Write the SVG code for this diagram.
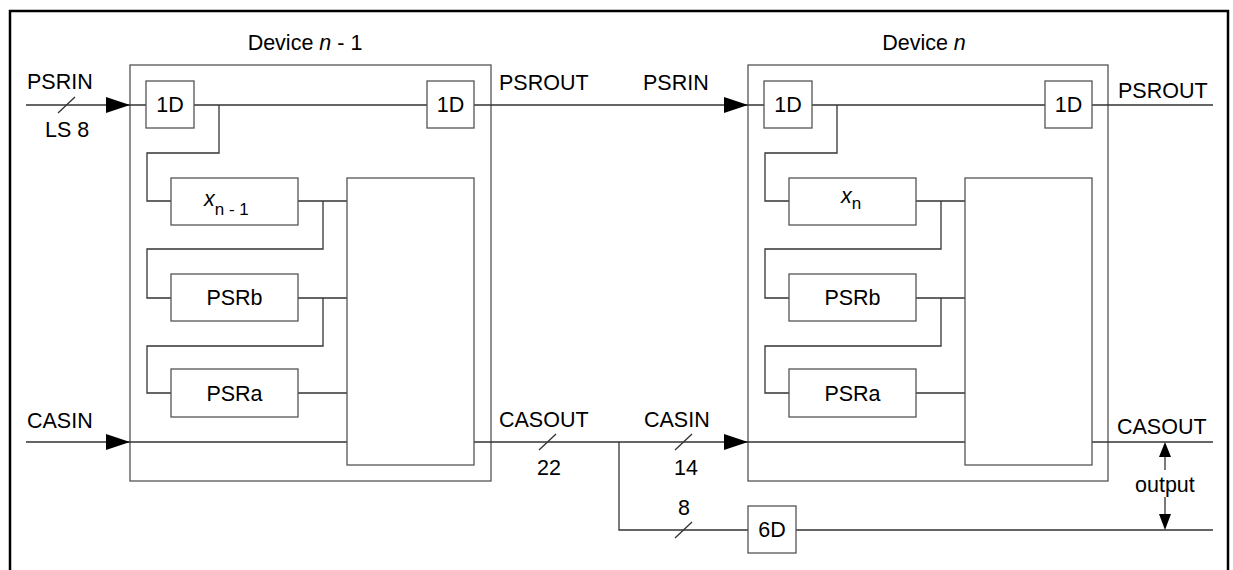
<svg xmlns="http://www.w3.org/2000/svg" width="1233" height="570" viewBox="0 0 1233 570">
<style>
  .box{fill:#fff;stroke:#555;stroke-width:1.3}
  .ln{fill:none;stroke:#333;stroke-width:1.3}
  .arr{fill:#000;stroke:none}
  text{font-family:"Liberation Sans",Arial,sans-serif;font-size:21.5px;fill:#000}
  .c{text-anchor:middle}
  .sub{font-size:17px}
</style>
<rect x="10" y="11" width="1218" height="575" fill="#fff" stroke="#000" stroke-width="2.5"/>

<g id="device-n-1">
  <rect class="box" x="130" y="65" width="361" height="416"/>
  <text x="305" y="50" class="c">Device <tspan font-style="italic">n</tspan> - 1</text>
</g>
<g id="device-n">
  <rect class="box" x="748" y="65" width="360" height="416"/>
  <text x="924" y="50" class="c">Device <tspan font-style="italic">n</tspan></text>
</g>

<g id="connectors">
  <path class="ln" d="M26,105H146 M194,105H427 M474,105H764"/>
  <path class="ln" d="M219,105V153H147V201H171 M298,201H347 M323,201V249H147V298H171 M298,298H347 M323,298V346H147V393H171 M298,393H347"/>
  <path class="ln" d="M26,442H347 M474,442H965 M619,442V530H748 M796,530H1213"/>
  <path class="ln" d="M812,105H1045 M1092,105H1213"/>
  <path class="ln" d="M837,105V153H765V201H789 M916,201H965 M941,201V249H765V298H789 M916,298H965 M941,298V346H765V393H789 M916,393H965"/>
  <path class="ln" d="M1092,442H1213"/>
  <polygon class="arr" points="106,97 130,105 106,113"/>
  <polygon class="arr" points="106,434 130,442 106,450"/>
  <polygon class="arr" points="724,97 748,105 724,113"/>
  <polygon class="arr" points="724,434 748,442 724,450"/>
  <path class="ln" d="M58,113L75,97 M539,450L556,434 M675,450L692,434 M675,538L692,522"/>
  <path class="ln" d="M1165,456V470 M1165,497V514"/>
  <polygon class="arr" points="1159,457 1165,442 1171,457"/>
  <polygon class="arr" points="1159,514 1165,530 1171,514"/>
</g>

<g id="n1-1D-in"><rect class="box" x="146" y="81" width="48" height="47"/><text x="170" y="112" class="c">1D</text></g>
<g id="n1-1D-out"><rect class="box" x="427" y="81" width="47" height="47"/><text x="450.5" y="112" class="c">1D</text></g>
<g id="n1-x"><rect class="box" x="171" y="178" width="127" height="47"/><text x="204" y="206"><tspan font-style="italic">x</tspan><tspan class="sub" dy="9">n - 1</tspan></text></g>
<g id="n1-psrb"><rect class="box" x="171" y="274" width="127" height="47"/><text x="234.5" y="305" class="c">PSRb</text></g>
<g id="n1-psra"><rect class="box" x="171" y="369" width="127" height="48"/><text x="234.5" y="401" class="c">PSRa</text></g>
<g id="n1-logic"><rect class="box" x="347" y="178" width="127" height="287"/></g>

<g id="n-1D-in"><rect class="box" x="764" y="81" width="48" height="47"/><text x="788" y="112" class="c">1D</text></g>
<g id="n-1D-out"><rect class="box" x="1045" y="81" width="47" height="47"/><text x="1068.5" y="112" class="c">1D</text></g>
<g id="n-x"><rect class="box" x="789" y="178" width="127" height="47"/><text x="841" y="203"><tspan font-style="italic">x</tspan><tspan class="sub" dy="6">n</tspan></text></g>
<g id="n-psrb"><rect class="box" x="789" y="274" width="127" height="47"/><text x="852.5" y="305" class="c">PSRb</text></g>
<g id="n-psra"><rect class="box" x="789" y="369" width="127" height="48"/><text x="852.5" y="401" class="c">PSRa</text></g>
<g id="n-logic"><rect class="box" x="965" y="178" width="127" height="287"/></g>

<g id="delay-6D"><rect class="box" x="748" y="506" width="48" height="47"/><text x="772" y="537" class="c">6D</text></g>

<g id="labels">
  <text x="27" y="89">PSRIN</text>
  <text x="45" y="137">LS 8</text>
  <text x="499" y="90">PSROUT</text>
  <text x="643" y="90">PSRIN</text>
  <text x="1118" y="98">PSROUT</text>
  <text x="27" y="428">CASIN</text>
  <text x="499" y="427">CASOUT</text>
  <text x="644" y="427">CASIN</text>
  <text x="537" y="475">22</text>
  <text x="674" y="475">14</text>
  <text x="678" y="515">8</text>
  <text x="1117" y="434">CASOUT</text>
  <text x="1135" y="492">output</text>
</g>
</svg>
